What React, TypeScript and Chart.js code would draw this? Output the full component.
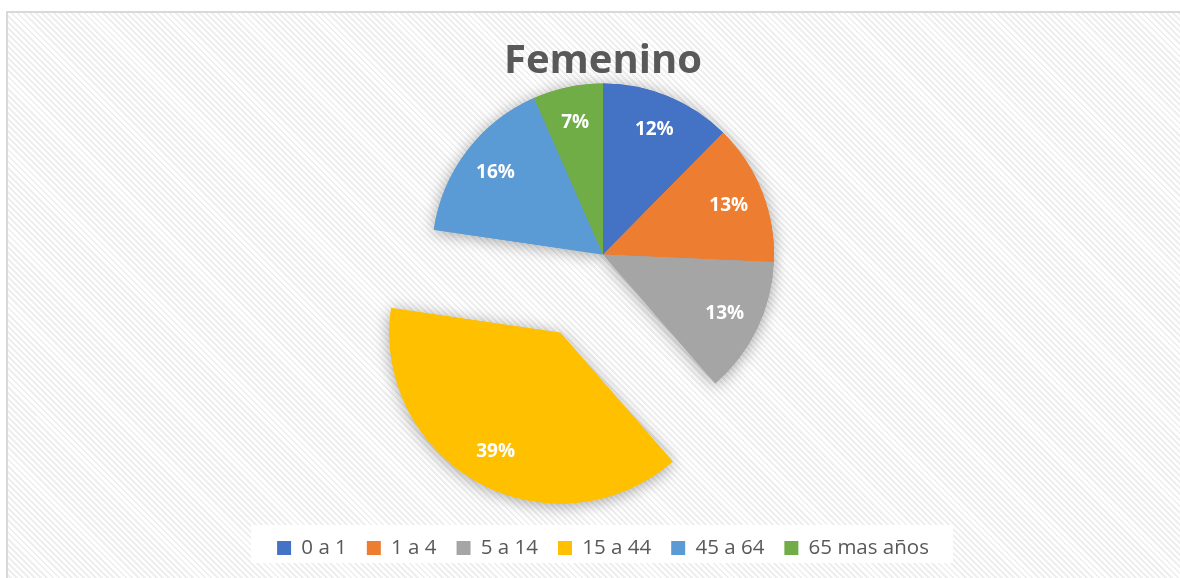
import React, { useEffect, useRef } from "react";
import { Chart, registerables } from "chart.js";

Chart.register(...registerables);

const chartTitle = "Femenino";
const categories = ["0 a 1", "1 a 4", "5 a 14", "15 a 44", "45 a 64", "65 mas años"];
const shares = [12.4, 13.3, 12.9, 38.7, 16.1, 6.6];

const sliceColors = ["#4472C4", "#ED7D31", "#A5A5A5", "#FFC000", "#5B9BD5", "#70AD47"];
const explodePx = [0, 0, 0, 89, 0, 0];
const FONT = "'Open Sans', 'DejaVu Sans', sans-serif";

const explodePlugin = {
  id: "explodeSlices",
  afterDatasetUpdate(chart: any, args: any) {
    const meta = args.meta;
    meta.data.forEach((el: any, i: number) => {
      const e = explodePx[i] || 0;
      if (!e) return;
      const mid = (el.startAngle + el.endAngle) / 2;
      el.x += Math.cos(mid) * e;
      el.y += Math.sin(mid) * e;
    });
  },
};

const shadowPlugin = {
  id: "pieShadow",
  beforeDatasetsDraw(chart: any) {
    const ctx = chart.ctx;
    const meta = chart.getDatasetMeta(0);
    ctx.save();
    ctx.shadowColor = "rgba(0,0,0,0.35)";
    ctx.shadowBlur = 16;
    ctx.shadowOffsetX = 0;
    ctx.shadowOffsetY = 2;
    meta.data.forEach((el: any) => el.draw(ctx));
    ctx.restore();
  },
};

const labelPlugin = {
  id: "sliceLabels",
  afterDatasetsDraw(chart: any) {
    const ctx = chart.ctx;
    const meta = chart.getDatasetMeta(0);
    const data = chart.data.datasets[0].data as number[];
    const total = data.reduce((a, b) => a + b, 0);
    ctx.save();
    ctx.fillStyle = "#ffffff";
    ctx.font = `bold 19px ${FONT}`;
    ctx.textAlign = "center";
    ctx.textBaseline = "middle";
    meta.data.forEach((el: any, i: number) => {
      const mid = (el.startAngle + el.endAngle) / 2;
      const r = el.outerRadius * 0.79;
      const x = el.x + Math.cos(mid) * r;
      const y = el.y + Math.sin(mid) * r;
      ctx.fillText(Math.round((data[i] / total) * 100) + "%", x, y);
    });
    ctx.restore();
  },
};

const legendBgPlugin = {
  id: "legendBackground",
  beforeDraw(chart: any) {
    const lg = chart.legend;
    if (!lg || !lg.legendHitBoxes || !lg.legendHitBoxes.length) return;
    const hb = lg.legendHitBoxes;
    const left = Math.min(...hb.map((h: any) => h.left)) - 26;
    const right = Math.max(...hb.map((h: any) => h.left + h.width)) + 24;
    const ctx = chart.ctx;
    ctx.save();
    ctx.fillStyle = "#ffffff";
    ctx.fillRect(left, 525, right - left, 38);
    ctx.restore();
  },
};

export default function App() {
  const canvasRef = useRef<HTMLCanvasElement | null>(null);

  useEffect(() => {
    if (!canvasRef.current) return;
    const chart = new Chart(canvasRef.current, {
      type: "pie",
      data: {
        labels: categories,
        datasets: [
          {
            data: shares,
            backgroundColor: sliceColors,
            borderWidth: 0,
            clip: false as any,
          } as any,
        ],
      },
      options: {
        animation: false,
        responsive: false,
        radius: 171,
        layout: { padding: { left: 26, right: 0, top: 0, bottom: 9.75 } },
        plugins: {
          tooltip: { enabled: false },
          title: {
            display: true,
            text: chartTitle,
            color: "#595959",
            font: { family: FONT, size: 40, weight: "bold", lineHeight: 1 },
            padding: { top: 42, bottom: 0 },
          },
          legend: {
            display: true,
            position: "bottom",
            title: { display: true, text: "", padding: { top: 76.35, bottom: 0 } },
            labels: {
              boxWidth: 14,
              boxHeight: 14,
              padding: 20,
              color: "#595959",
              font: { family: FONT, size: 20.5 },
            },
          },
        },
      } as any,
      plugins: [explodePlugin, shadowPlugin, labelPlugin, legendBgPlugin],
    });
    return () => chart.destroy();
  }, []);

  return (
    <div
      style={{
        position: "fixed",
        left: 0,
        top: 0,
        width: 1180,
        height: 578,
        background: "#ffffff",
        overflow: "hidden",
      }}
    >
      <div
        style={{
          position: "absolute",
          left: 6,
          top: 11,
          width: 1190,
          height: 600,
          border: "2px solid #d9d9d9",
          background:
            "repeating-linear-gradient(45deg, #efefef 0px, #efefef 2px, #ffffff 2px, #ffffff 4.3px)",
        }}
      />
      <canvas
        ref={canvasRef}
        width={1180}
        height={578}
        style={{ position: "absolute", left: 0, top: 0, width: 1180, height: 578 }}
      />
    </div>
  );
}
